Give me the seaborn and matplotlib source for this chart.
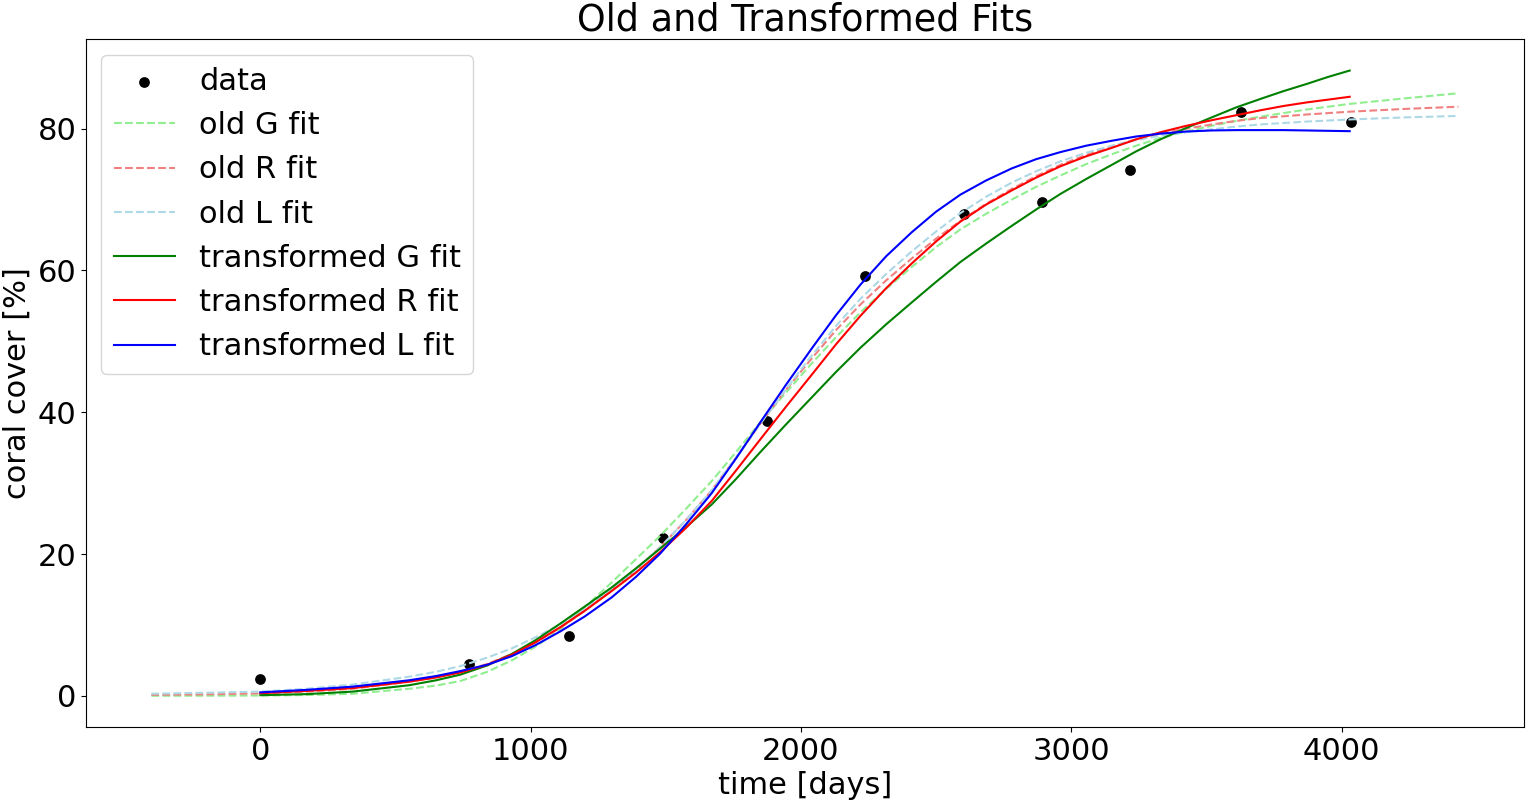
import numpy as np
import pandas as pd
import matplotlib
matplotlib.use("Agg")
import matplotlib.pyplot as plt
import seaborn as sns

plt.rcParams["font.size"] = 22

# measured coral cover
t_data = [0, 773, 1142, 1490, 1874, 2237, 2603, 2891, 3216, 3627, 4033]
cover_data = [2.4, 4.5, 8.4, 22.2, 38.8, 59.2, 67.9, 69.6, 74.2, 82.4, 81.0]

# old fits (extended 10% past the data)
t_old = [-403, -200, 0, 170, 340, 550, 650, 740, 840, 930, 1020, 1110, 1200,
         1300, 1390, 1480, 1575, 1670, 1760, 1850, 1945, 2040, 2130, 2220,
         2315, 2410, 2500, 2590, 2685, 2780, 2870, 2960, 3055, 3150, 3240,
         3330, 3425, 3520, 3610, 3700, 3870, 4030, 4240, 4432]
old_G = [0.02, 0.03, 0.05, 0.12, 0.3, 1.0, 1.45, 2.1, 3.4, 5.0, 7.0, 9.4, 12.5,
         16.0, 19.3, 22.6, 26.4, 30.3, 34.4, 38.6, 42.8, 46.9, 50.6, 54.1,
         57.4, 60.5, 63.3, 65.8, 68.0, 70.0, 71.8, 73.4, 75.0, 76.4, 77.6,
         78.7, 79.6, 80.4, 81.1, 81.7, 82.7, 83.5, 84.3, 85.0]
old_R = [0.15, 0.22, 0.35, 0.6, 1.0, 2.0, 2.6, 3.4, 4.5, 5.9, 7.6, 9.6, 12.0,
         14.9, 17.8, 21.0, 24.8, 29.0, 33.6, 38.4, 43.2, 47.6, 51.6, 55.2,
         58.6, 61.7, 64.5, 67.0, 69.4, 71.5, 73.3, 74.9, 76.3, 77.5, 78.5,
         79.3, 80.0, 80.6, 81.1, 81.5, 82.0, 82.4, 82.8, 83.1]
old_L = [0.3, 0.45, 0.6, 1.0, 1.6, 2.7, 3.4, 4.2, 5.4, 6.7, 8.3, 10.1, 12.3,
         15.0, 17.8, 21.0, 24.8, 29.0, 33.6, 38.4, 43.3, 48.0, 52.2, 56.0,
         59.5, 62.7, 65.5, 68.1, 70.4, 72.4, 74.0, 75.4, 76.6, 77.6, 78.4,
         79.0, 79.5, 79.9, 80.3, 80.6, 81.0, 81.3, 81.6, 81.8]

# transformed fits
t_new = [0, 170, 340, 550, 650, 740, 840, 930, 1020, 1110, 1200, 1300, 1390,
         1480, 1575, 1670, 1760, 1850, 1945, 2040, 2130, 2220, 2315, 2410,
         2500, 2590, 2685, 2780, 2870, 2960, 3055, 3150, 3240, 3330, 3425,
         3520, 3610, 3700, 3785, 3870, 3950, 4030]
new_G = [0.1, 0.25, 0.6, 1.5, 2.2, 3.0, 4.3, 5.9, 7.9, 10.2, 12.6, 15.3, 18.0,
         20.8, 23.8, 27.0, 30.6, 34.4, 38.3, 42.1, 45.7, 49.1, 52.4, 55.5,
         58.4, 61.2, 63.8, 66.3, 68.6, 70.8, 72.9, 74.9, 76.8, 78.5, 80.1,
         81.6, 83.0, 84.2, 85.3, 86.3, 87.3, 88.2]
new_R = [0.38, 0.7, 1.1, 2.0, 2.6, 3.3, 4.4, 5.8, 7.6, 9.7, 12.0, 14.8, 17.4,
         20.3, 23.7, 27.5, 31.8, 36.2, 40.8, 45.3, 49.6, 53.6, 57.5, 61.0,
         64.1, 66.9, 69.3, 71.3, 73.1, 74.7, 76.1, 77.3, 78.5, 79.5, 80.4,
         81.2, 81.9, 82.6, 83.2, 83.7, 84.1, 84.5]
new_L = [0.5, 0.85, 1.3, 2.2, 2.8, 3.5, 4.4, 5.6, 7.2, 9.1, 11.2, 13.9, 16.8,
         20.1, 24.2, 28.6, 33.5, 38.6, 43.9, 49.0, 53.7, 58.0, 62.0, 65.4,
         68.3, 70.7, 72.7, 74.4, 75.7, 76.7, 77.6, 78.3, 78.9, 79.3, 79.6,
         79.75, 79.8, 79.8, 79.8, 79.75, 79.7, 79.65]

fig, ax = plt.subplots(figsize=(15.36, 8.02), dpi=100)
fig.subplots_adjust(left=0.056, right=0.992, top=0.951, bottom=0.0935)

sns.scatterplot(x=t_data, y=cover_data, color="black", s=60, linewidth=0,
                label="data", ax=ax)

old = [("old G fit", old_G, "lightgreen"),
       ("old R fit", old_R, "lightcoral"),
       ("old L fit", old_L, "lightblue")]
for name, vals, col in old:
    sns.lineplot(x=t_old, y=vals, color=col, linestyle="--", linewidth=1.5,
                 label=name, ax=ax)

new = [("transformed G fit", new_G, "green"),
       ("transformed R fit", new_R, "red"),
       ("transformed L fit", new_L, "blue")]
for name, vals, col in new:
    sns.lineplot(x=t_new, y=vals, color=col, linewidth=1.5, label=name, ax=ax)

ax.set_xlabel("time [days]")
ax.set_ylabel("coral cover [%]")
ax.set_title("Old and Transformed Fits")
ax.set_xticks([0, 1000, 2000, 3000, 4000])
ax.set_yticks([0, 20, 40, 60, 80])
ax.legend(loc="upper left")

plt.savefig("out.png", dpi=100)
